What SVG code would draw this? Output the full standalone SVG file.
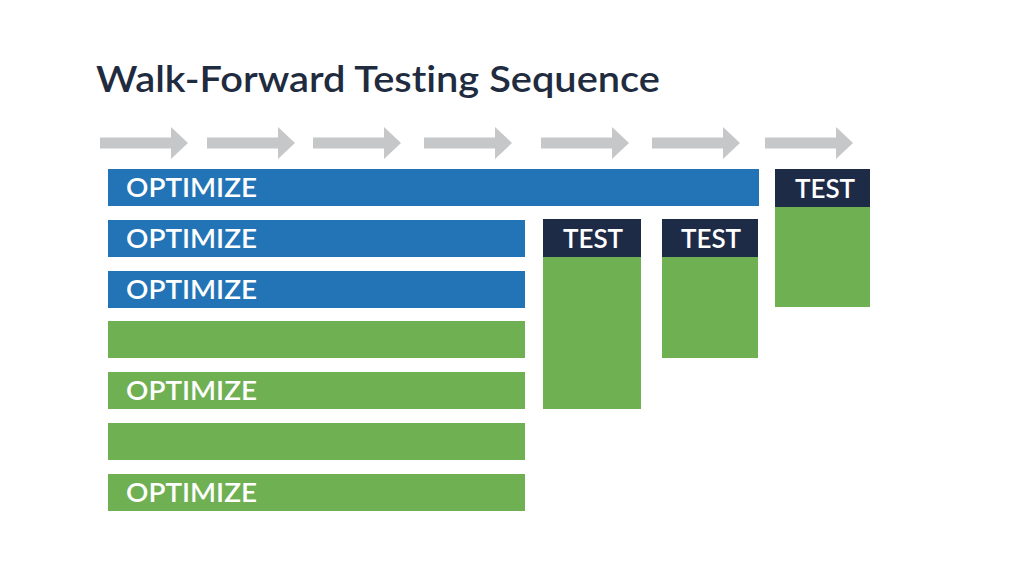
<svg xmlns="http://www.w3.org/2000/svg" width="1024" height="576" viewBox="0 0 1024 576">
<style>
.title{font-family:Lato,"Noto Sans",sans-serif;font-weight:600;font-size:37px;fill:#1f2b3e;font-variant-ligatures:none;font-feature-settings:"liga" 0,"dlig" 0}
.lbl{font-family:Lato,"Noto Sans",sans-serif;font-weight:600;font-size:26px;fill:#ffffff}
.blue{fill:#2374b6}
.green{fill:#6fb052}
.dark{fill:#1e2b47}
.arr{fill:#c6c7c9}
</style>
<defs>
<path id="arrow" d="M0,-5.5 H71 V-16 L88,0 L71,16 V5.5 H0 Z"/>
</defs>
<rect width="1024" height="576" fill="#ffffff"/>
<text class="title" x="96" y="92" textLength="564" lengthAdjust="spacingAndGlyphs">Walk-Forward Testing Sequence</text>
<g id="connectors">
<use href="#arrow" class="arr" x="100" y="143"/>
<use href="#arrow" class="arr" x="207" y="143"/>
<use href="#arrow" class="arr" x="313" y="143"/>
<use href="#arrow" class="arr" x="424" y="143"/>
<use href="#arrow" class="arr" x="541" y="143"/>
<use href="#arrow" class="arr" x="652" y="143"/>
<use href="#arrow" class="arr" x="765" y="143"/>
</g>
<g id="row1"><rect class="blue" x="108" y="169" width="651" height="37"/><text class="lbl" x="126" y="197" textLength="131" lengthAdjust="spacingAndGlyphs">OPTIMIZE</text></g>
<g id="row2"><rect class="blue" x="108" y="220" width="417" height="37"/><text class="lbl" x="126" y="248" textLength="131" lengthAdjust="spacingAndGlyphs">OPTIMIZE</text></g>
<g id="row3"><rect class="blue" x="108" y="271" width="417" height="37"/><text class="lbl" x="126" y="299" textLength="131" lengthAdjust="spacingAndGlyphs">OPTIMIZE</text></g>
<g id="row4"><rect class="green" x="108" y="321" width="417" height="37"/></g>
<g id="row5"><rect class="green" x="108" y="372" width="417" height="37"/><text class="lbl" x="126" y="400" textLength="131" lengthAdjust="spacingAndGlyphs">OPTIMIZE</text></g>
<g id="row6"><rect class="green" x="108" y="423" width="417" height="37"/></g>
<g id="row7"><rect class="green" x="108" y="474" width="417" height="37"/><text class="lbl" x="126" y="502" textLength="131" lengthAdjust="spacingAndGlyphs">OPTIMIZE</text></g>
<g id="test1"><rect class="green" x="543" y="219" width="98" height="190"/><rect class="dark" x="543" y="219" width="98" height="38"/><text class="lbl" x="593" y="248" text-anchor="middle">TEST</text></g>
<g id="test2"><rect class="green" x="662" y="219" width="96" height="139"/><rect class="dark" x="662" y="219" width="96" height="38"/><text class="lbl" x="711" y="248" text-anchor="middle">TEST</text></g>
<g id="test3"><rect class="green" x="775" y="169" width="95" height="138"/><rect class="dark" x="775" y="169" width="95" height="38"/><text class="lbl" x="825" y="198" text-anchor="middle">TEST</text></g>
</svg>
